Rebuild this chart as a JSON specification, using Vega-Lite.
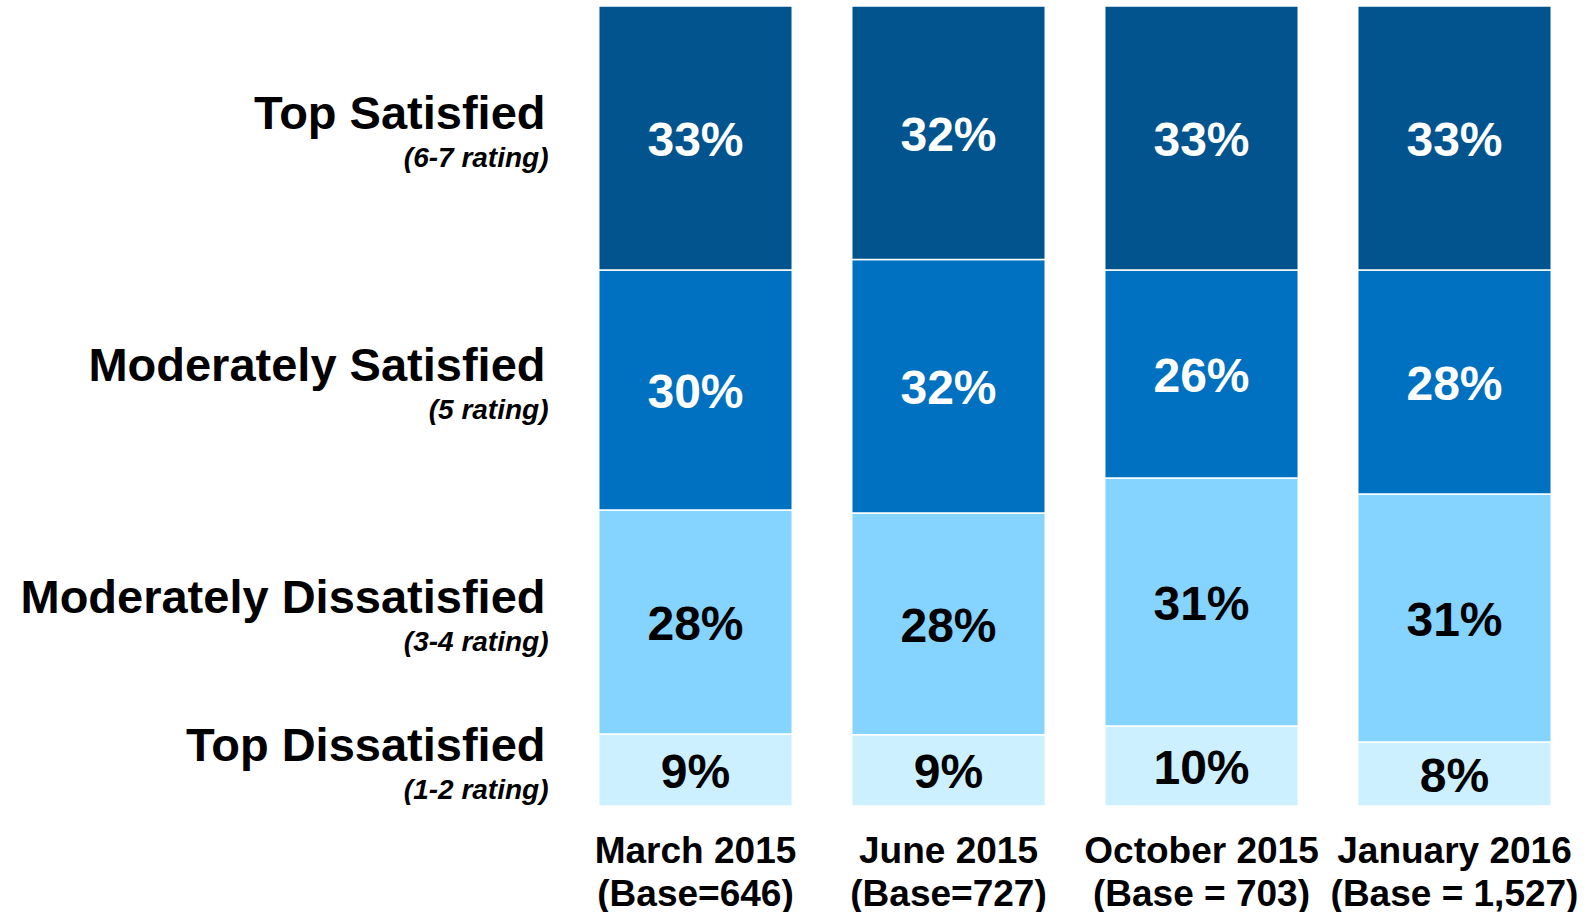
{
  "$schema": "https://vega.github.io/schema/vega-lite/v6.json",
  "autosize": "none",
  "width": 1012,
  "height": 800,
  "padding": {"left": 569, "top": 6, "right": 10, "bottom": 106},
  "background": "white",
  "config": {"view": {"stroke": null}, "font": "Liberation Sans"},
  "data": {"values": [
    {"month": "March 2015\n(Base=646)", "m": 1, "cat": "Top Dissatisfied", "sub": "(1-2 rating)", "order": 1, "pct": 0.09},
    {"month": "March 2015\n(Base=646)", "m": 1, "cat": "Moderately Dissatisfied", "sub": "(3-4 rating)", "order": 2, "pct": 0.28},
    {"month": "March 2015\n(Base=646)", "m": 1, "cat": "Moderately Satisfied", "sub": "(5 rating)", "order": 3, "pct": 0.30},
    {"month": "March 2015\n(Base=646)", "m": 1, "cat": "Top Satisfied", "sub": "(6-7 rating)", "order": 4, "pct": 0.33},
    {"month": "June 2015\n(Base=727)", "m": 2, "cat": "Top Dissatisfied", "sub": "(1-2 rating)", "order": 1, "pct": 0.09},
    {"month": "June 2015\n(Base=727)", "m": 2, "cat": "Moderately Dissatisfied", "sub": "(3-4 rating)", "order": 2, "pct": 0.28},
    {"month": "June 2015\n(Base=727)", "m": 2, "cat": "Moderately Satisfied", "sub": "(5 rating)", "order": 3, "pct": 0.32},
    {"month": "June 2015\n(Base=727)", "m": 2, "cat": "Top Satisfied", "sub": "(6-7 rating)", "order": 4, "pct": 0.32},
    {"month": "October 2015\n(Base = 703)", "m": 3, "cat": "Top Dissatisfied", "sub": "(1-2 rating)", "order": 1, "pct": 0.10},
    {"month": "October 2015\n(Base = 703)", "m": 3, "cat": "Moderately Dissatisfied", "sub": "(3-4 rating)", "order": 2, "pct": 0.31},
    {"month": "October 2015\n(Base = 703)", "m": 3, "cat": "Moderately Satisfied", "sub": "(5 rating)", "order": 3, "pct": 0.26},
    {"month": "October 2015\n(Base = 703)", "m": 3, "cat": "Top Satisfied", "sub": "(6-7 rating)", "order": 4, "pct": 0.33},
    {"month": "January 2016\n(Base = 1,527)", "m": 4, "cat": "Top Dissatisfied", "sub": "(1-2 rating)", "order": 1, "pct": 0.08},
    {"month": "January 2016\n(Base = 1,527)", "m": 4, "cat": "Moderately Dissatisfied", "sub": "(3-4 rating)", "order": 2, "pct": 0.31},
    {"month": "January 2016\n(Base = 1,527)", "m": 4, "cat": "Moderately Satisfied", "sub": "(5 rating)", "order": 3, "pct": 0.28},
    {"month": "January 2016\n(Base = 1,527)", "m": 4, "cat": "Top Satisfied", "sub": "(6-7 rating)", "order": 4, "pct": 0.33}
  ]},
  "transform": [
    {"stack": "pct", "groupby": ["month"], "sort": [{"field": "order"}], "offset": "normalize", "as": ["y0", "y1"]},
    {"calculate": "(datum.y0 + datum.y1) / 2", "as": "ymid"}
  ],
  "encoding": {
    "x": {
      "field": "month", "type": "nominal",
      "sort": {"field": "m"},
      "scale": {"paddingInner": 0.235, "paddingOuter": 0.1175},
      "axis": {
        "title": null, "domain": false, "ticks": false, "tickSize": 0,
        "labelAngle": 0, "labelFontSize": 37, "labelFontWeight": "bold",
        "labelFont": "Liberation Sans", "labelColor": "black",
        "labelPadding": 27, "labelLineHeight": 43, "labelBaseline": "top",
        "labelOverlap": false, "labelBound": false, "labelLimit": 0,
        "labelExpr": "split(datum.value, '\\n')"
      }
    }
  },
  "layer": [
    {
      "mark": {"type": "bar", "stroke": "white", "strokeWidth": 1.5},
      "encoding": {
        "y": {"field": "y0", "type": "quantitative", "scale": {"domain": [0, 1], "nice": false}, "axis": null},
        "y2": {"field": "y1"},
        "color": {
          "field": "cat", "type": "nominal", "legend": null,
          "scale": {
            "domain": ["Top Satisfied", "Moderately Satisfied", "Moderately Dissatisfied", "Top Dissatisfied"],
            "range": ["#02548F", "#0070C0", "#85D3FF", "#CCF0FF"]
          }
        }
      }
    },
    {
      "mark": {"type": "text", "fontSize": 48, "fontWeight": "bold", "font": "Liberation Sans", "baseline": "middle", "align": "center", "dy": 4},
      "encoding": {
        "y": {"field": "ymid", "type": "quantitative"},
        "text": {"field": "pct", "type": "quantitative", "format": ".0%"},
        "color": {"condition": {"test": "datum.order >= 3", "value": "white"}, "value": "black"}
      }
    },
    {
      "transform": [{"filter": "datum.m == 1"}],
      "mark": {"type": "text", "fontSize": 47, "fontWeight": "bold", "font": "Liberation Sans", "baseline": "alphabetic", "align": "right", "dx": -150, "dy": -9, "color": "black"},
      "encoding": {
        "y": {"field": "ymid", "type": "quantitative"},
        "text": {"field": "cat"}
      }
    },
    {
      "transform": [{"filter": "datum.m == 1"}],
      "mark": {"type": "text", "fontSize": 28, "fontWeight": "bold", "fontStyle": "italic", "font": "Liberation Sans", "baseline": "alphabetic", "align": "right", "dx": -147, "dy": 29, "color": "black"},
      "encoding": {
        "y": {"field": "ymid", "type": "quantitative"},
        "text": {"field": "sub"}
      }
    }
  ]
}
